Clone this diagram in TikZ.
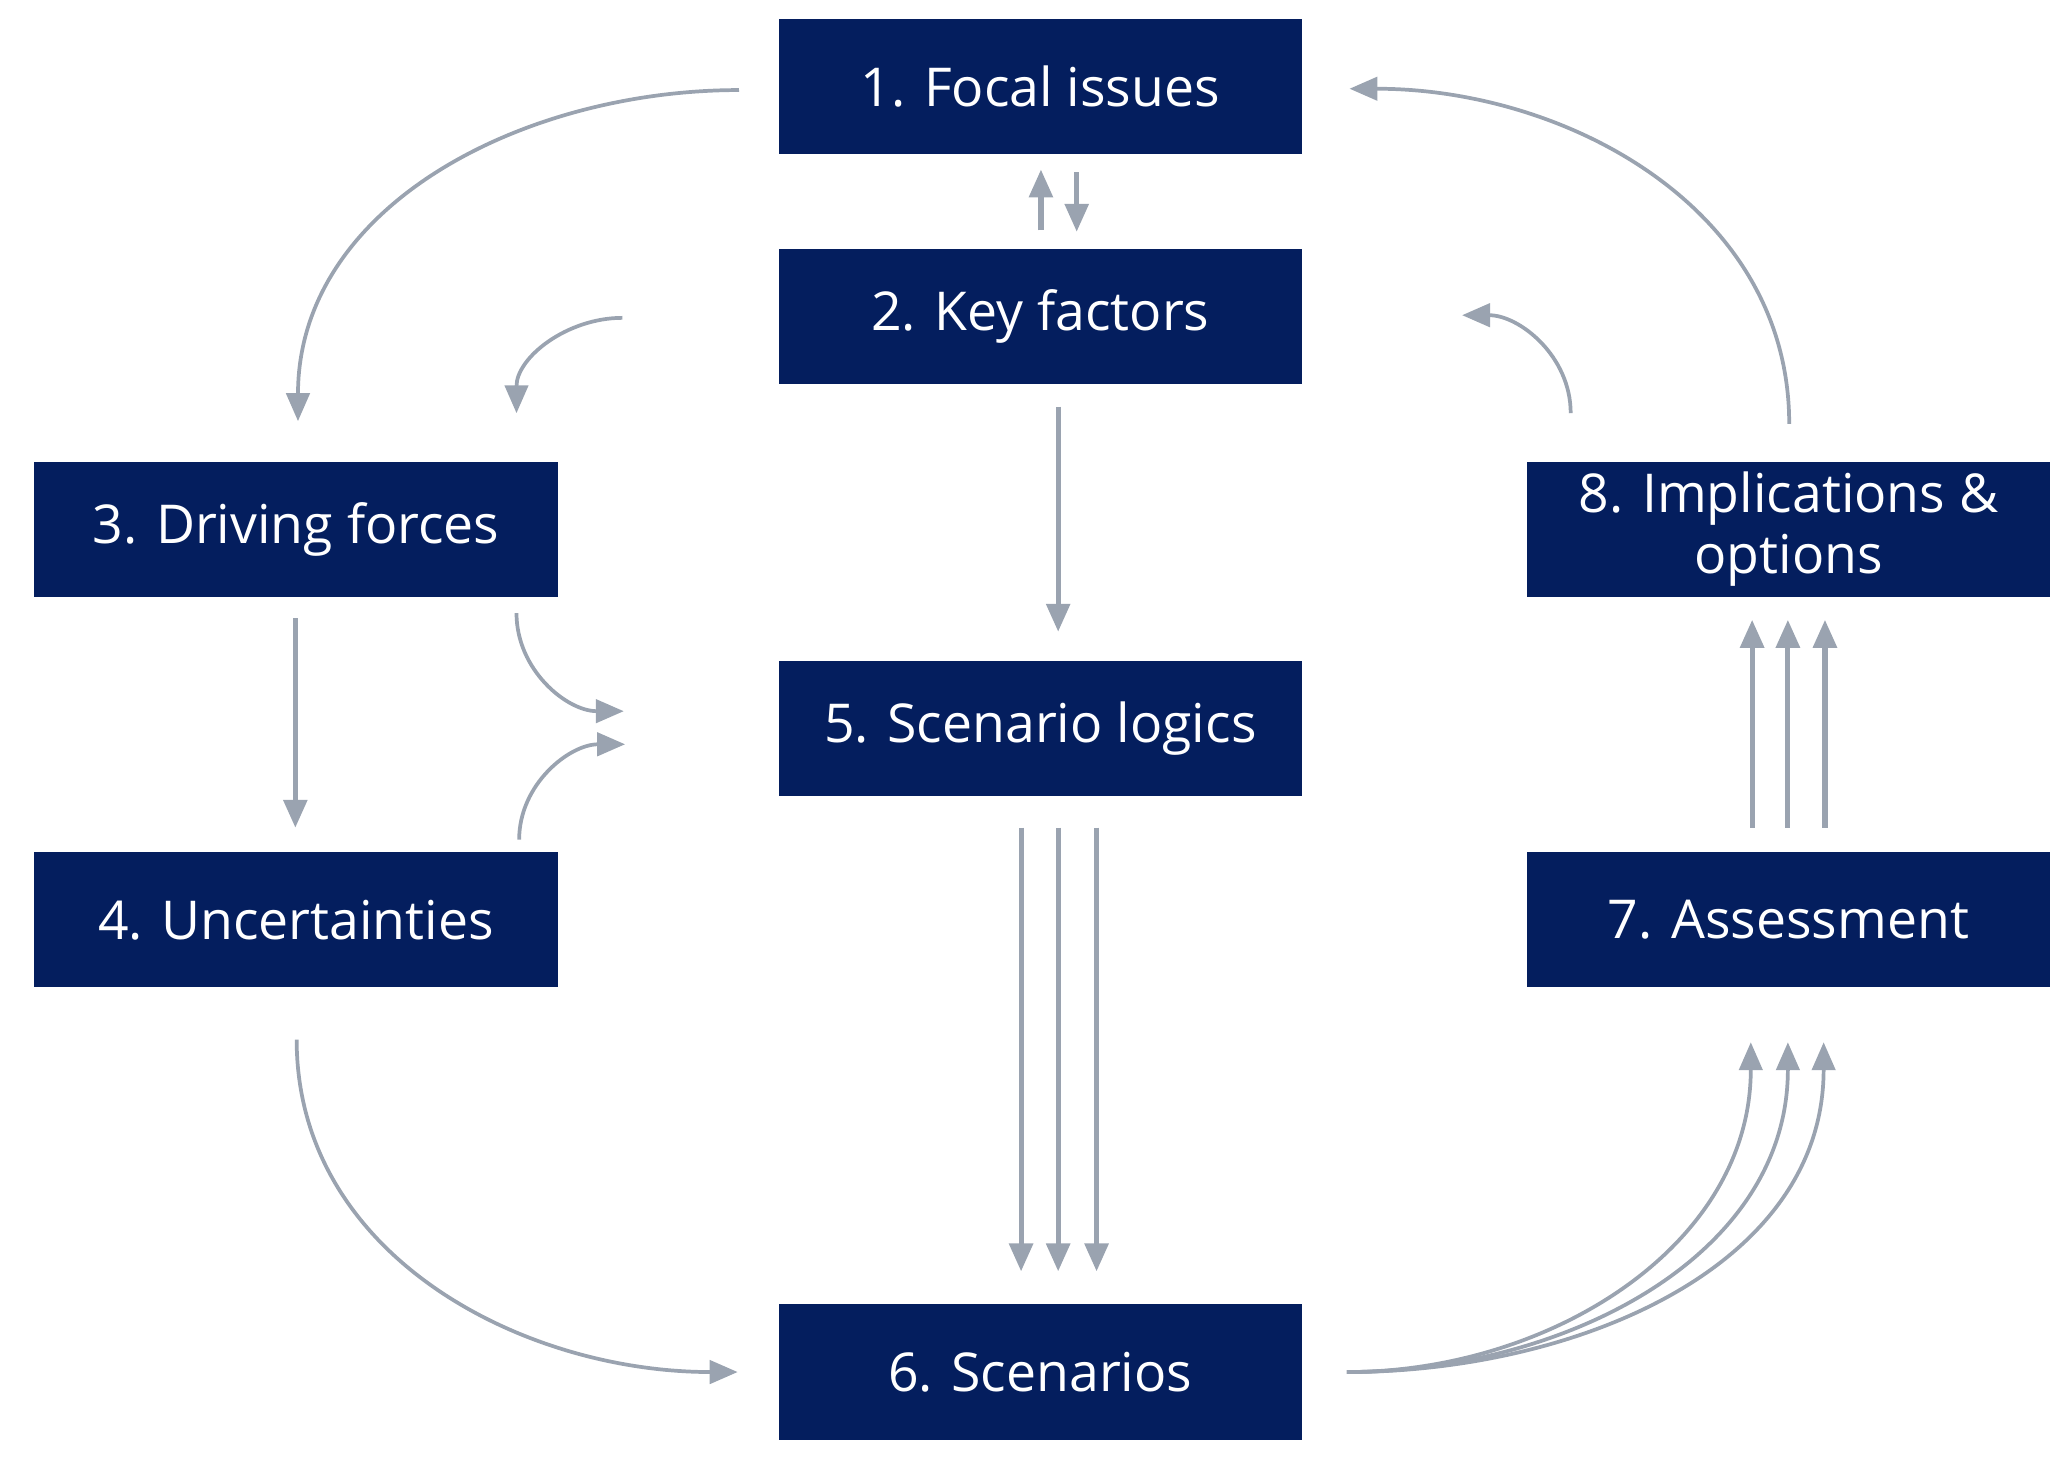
\documentclass[tikz,border=0pt]{standalone}
\usepackage{fontspec}
\setmainfont{Open Sans}
\usetikzlibrary{arrows.meta}
\definecolor{navy}{HTML}{041E5E}
\definecolor{arrowgray}{HTML}{9AA3B0}
\begin{document}
\begin{tikzpicture}[x=0.01cm, y=-0.01cm,
        stepbox/.style={fill=navy, text=white, minimum width=3.95cm, minimum height=1.02cm,
          inner sep=0pt, align=center, font=\fontsize{11.5}{11}\selectfont},
        flow/.style={draw=arrowgray, line width=1.1pt, -{Triangle[length=6pt, width=5pt]}},
        loop/.style={draw=arrowgray, line width=0.8pt, -{Triangle[length=6pt, width=5pt]}}
      ]
      \useasboundingbox (0, 0) rectangle (1560, 1100);
      % boxes
      \node[stepbox] at (785.5, 65) (focal) {1. Focal issues};
      \node[stepbox] at (785.5, 239) (key) {2. Key factors};
      \node[stepbox] at (223.5, 399.5) (forces) {3. Driving forces};
      \node[stepbox] at (223.5, 694.5) (uncert) {4. Uncertainties};
      \node[stepbox] at (785.5, 550) (logics) {5. Scenario logics};
      \node[stepbox] at (785.5, 1036) (scen) {6. Scenarios};
      \node[stepbox] at (1350.5, 694.5) (assess) {7. Assessment};
      \node[stepbox] at (1350.5, 399.5) (impl) {8. Implications \&\\[1pt] options};

      % arrow ends
      \coordinate (f1) at (558, 68);   \coordinate (f3) at (225, 318);
      \coordinate (k1) at (470, 240);  \coordinate (k3) at (390, 312);
      \coordinate (d1) at (390, 463);  \coordinate (d5) at (471, 537);
      \coordinate (u1) at (392, 634);  \coordinate (u5) at (472, 562);
      \coordinate (u2) at (224, 785);  \coordinate (u6) at (557, 1036);
      \coordinate (s1) at (1017, 1036);
      \coordinate (i1) at (1186, 312); \coordinate (i2) at (1104, 238);
      \coordinate (i3) at (1351, 320); \coordinate (i4) at (1019, 67);

      % straight arrows
      \draw[flow] (786, 174) -- (786, 128);
      \draw[flow] (813, 130) -- (813, 175);
      \draw[flow] (799, 307) -- (799, 477);
      \draw[flow] (223, 467) -- (223, 625);
      \foreach \x in {771, 799, 828}
        \draw[flow] (\x, 625) -- (\x, 960);
      \foreach \x in {1323, 1350, 1378}
        \draw[flow] (\x, 625) -- (\x, 468);

      % curved arrows
      \draw[loop] (f1) to[out=180, in=90] (f3);
      \draw[loop] (k1) to[out=180, in=90] (k3);
      \draw[loop] (d1) to[out=-90, in=180] (d5);
      \draw[loop] (u1) to[out=90, in=180] (u5);
      \draw[loop] (u2) to[out=-90, in=180] (u6);
      \foreach \x in {1322, 1350, 1377}
        \draw[loop] (s1) to[out=0, in=-90] (\x, 787);
      \draw[loop] (i1) to[out=90, in=0] (i2);
      \draw[loop] (i3) to[out=90, in=0] (i4);
  \end{tikzpicture}
\end{document}
